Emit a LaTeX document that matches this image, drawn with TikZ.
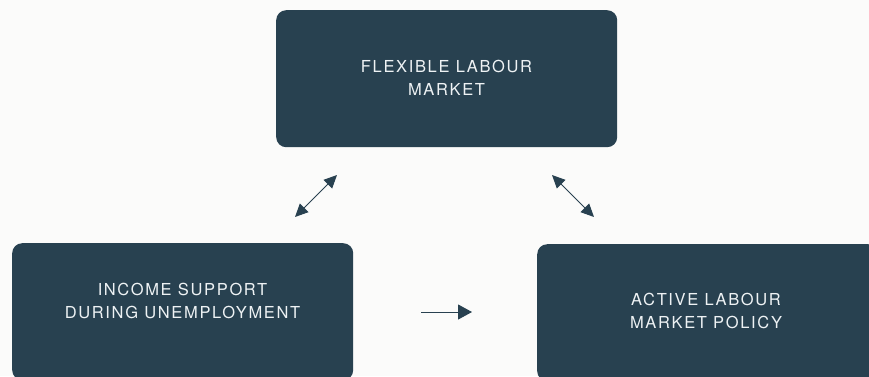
\documentclass[tikz,border=0pt]{standalone}
\usepackage{fontspec}
\setmainfont{TeX Gyre Heros}
\newfontfamily\boxfont[LetterSpace=10]{TeX Gyre Heros}
\usepackage{xcolor}
\usetikzlibrary{arrows.meta,positioning}
\definecolor{lmslate}{RGB}{40,65,80}
\definecolor{lmtext}{RGB}{238,242,244}
\definecolor{lmpaper}{RGB}{251,251,250}
\tikzset{
  box/.style={fill=lmslate, rounded corners=10pt, minimum width=341pt,
    minimum height=137pt, inner sep=0pt, anchor=north west},
  boxtext/.style={font=\boxfont\fontsize{16.5}{23}\selectfont, text=lmtext,
    align=center, inner sep=0pt},
  duplex/.style={{Triangle[length=13pt,width=12pt]}-{Triangle[length=13pt,width=12pt]},
    line width=1pt, draw=lmslate},
  oneway/.style={-{Triangle[length=14pt,width=15pt]}, line width=1pt, draw=lmslate},
}

\begin{document}
\begin{tikzpicture}[x=1pt, y=-1pt]
  \useasboundingbox (0,0) rectangle (869,376);
  \clip (0,0) rectangle (869,376);
  \fill[lmpaper] (0,0) rectangle (869,376);
  % the three boxes
  \node[box] (flex) at (276,10) {};
  \node[box] (income) at (12,243) {};
  \node[box] (active) at (537,244) {};
  \node[boxtext] (flextext) at (446.5,77.5) {FLEXIBLE LABOUR\\MARKET};
  \node[boxtext] (incometext) at (182.5,301) {INCOME SUPPORT\\DURING UNEMPLOYMENT};
  \node[boxtext] (activetext) at (706,311) {ACTIVE LABOUR\\MARKET POLICY};
  % arrows in the gaps
  \coordinate (la) at (295,217);
  \coordinate (lb) at (337,175);
  \coordinate (ra) at (552,175);
  \coordinate (rb) at (594,217);
  \coordinate (ha) at (421,312);
  \coordinate (hb) at (472,312);
  \draw[duplex] (la) -- (lb);
  \draw[duplex] (ra) -- (rb);
  \draw[oneway] (ha) -- (hb);
\end{tikzpicture}
\end{document}
